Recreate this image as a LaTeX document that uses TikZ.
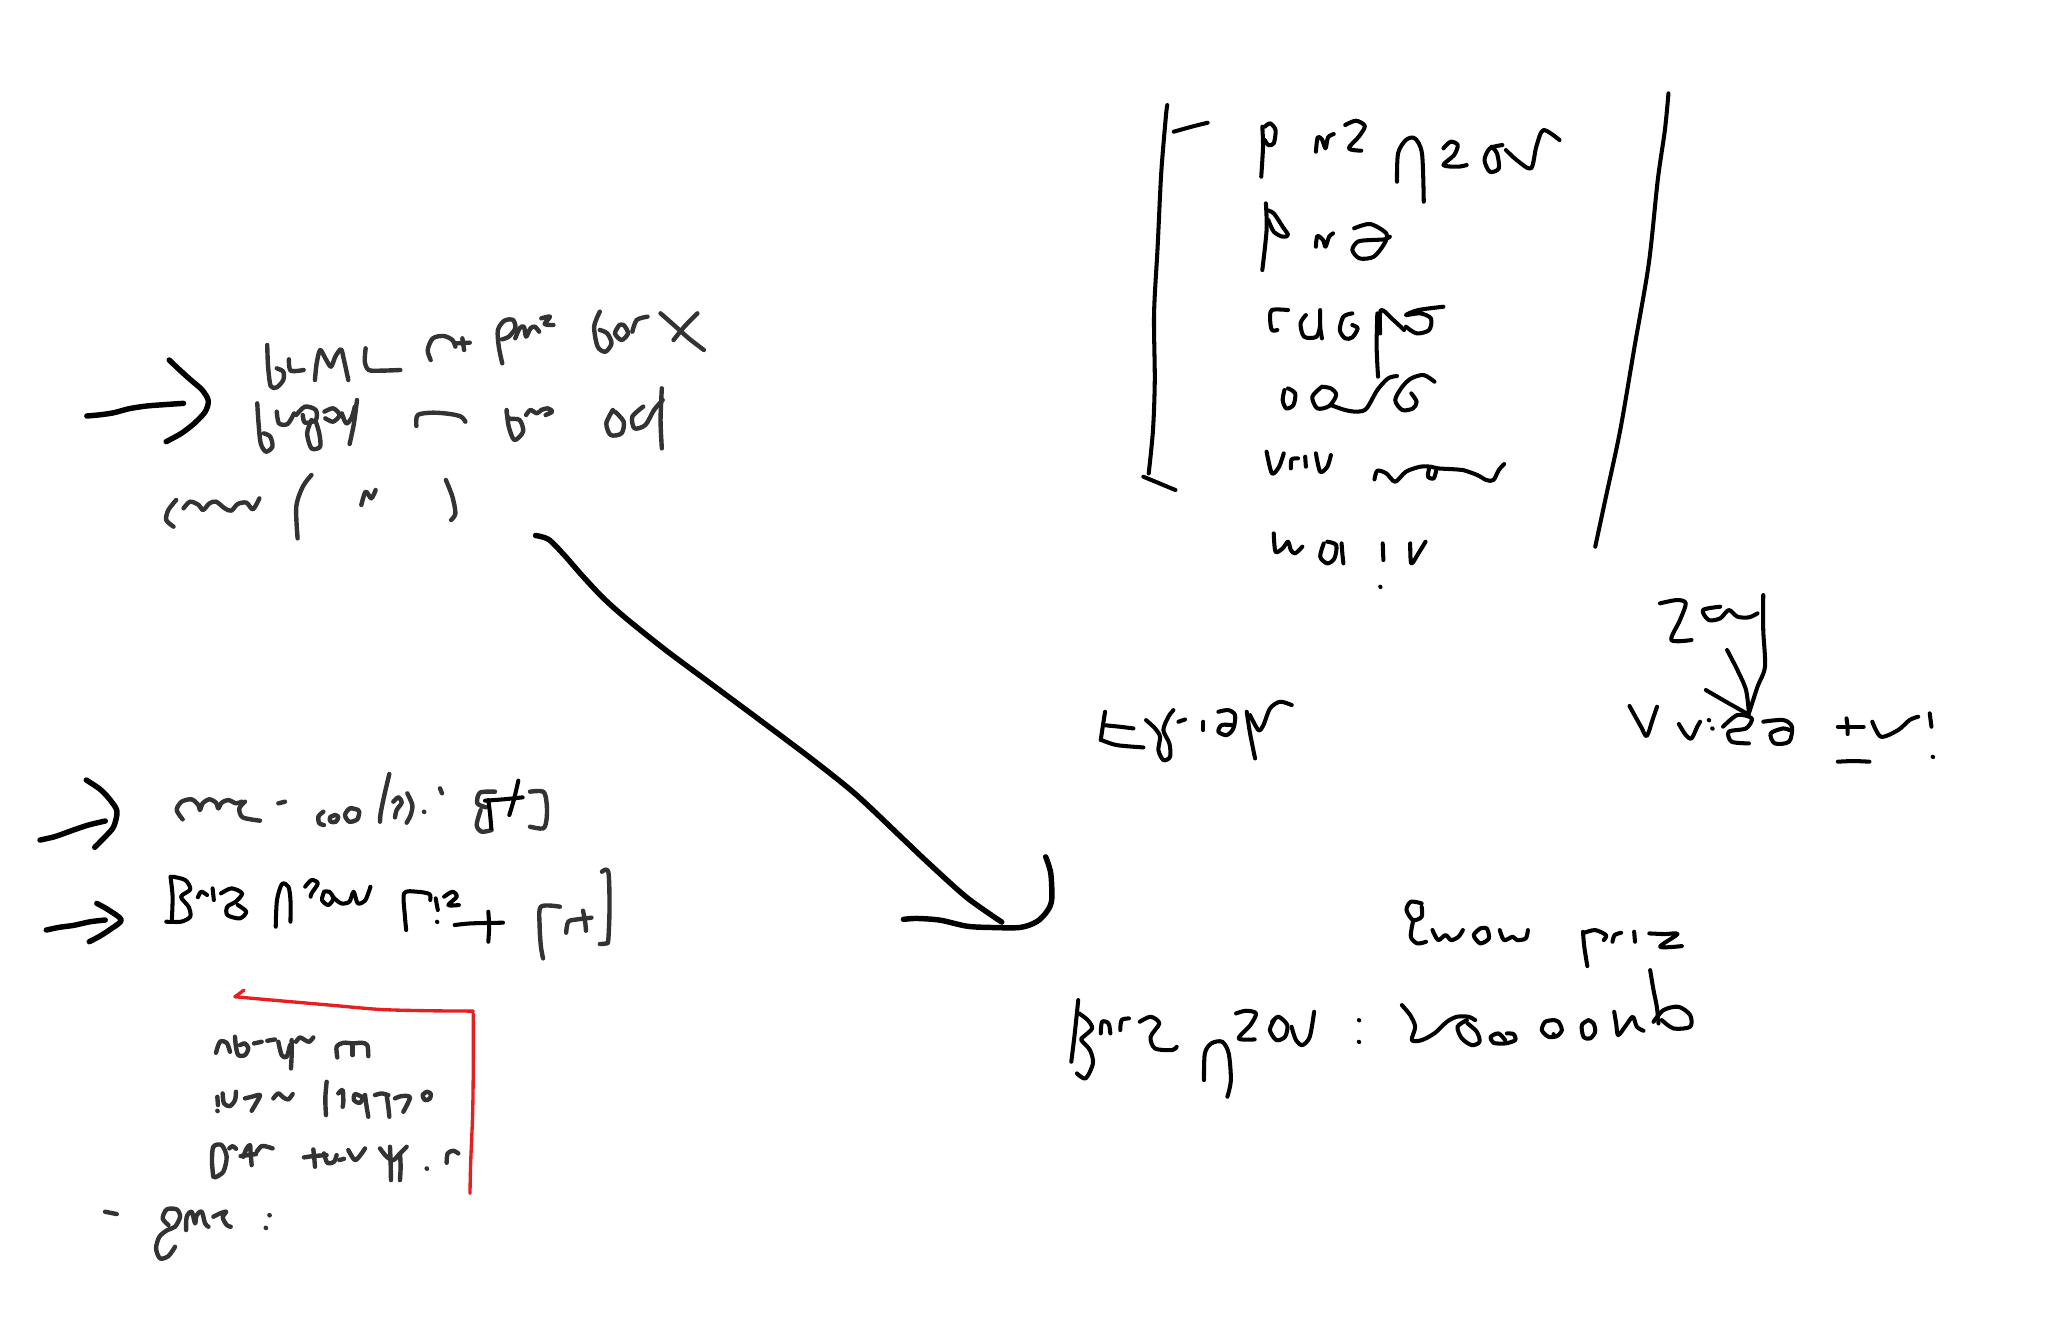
\documentclass[tikz,border=0pt]{standalone}
\usepackage{tikz}
\definecolor{inkgray}{RGB}{51,51,51}
\definecolor{boxred}{RGB}{230,32,32}

\begin{document}
\begin{tikzpicture}[x=0.0130612cm, y=-0.0130612cm,
    line cap=round, line join=round,
    pencil/.style={draw=inkgray, line width=1.25pt},
    pen/.style={draw=black, line width=1.15pt},
    marker/.style={draw=black, line width=1.55pt},
    redpen/.style={draw=boxred, line width=0.95pt}]
  \fill[white] (0,0) rectangle (1568,1010.6);
  \useasboundingbox (0,0) rectangle (1568,1010.6);

  % top left notes
  \begin{scope}[shift={(45.9,229.7)}, xscale=0.332, yscale=0.2552]
    \draw[marker] plot[smooth] coordinates {(62,348) (95,344) (125,338) (160,326) (200,318) (240,314) (285,310)};
    \draw[marker] plot[smooth] coordinates {(252,180) (272,205) (300,238) (328,270) (342,302) (335,335) (310,370) (280,400) (245,425)};
    \draw[pencil] plot[smooth] coordinates {(478,135) (480,200) (486,258) (500,262) (515,240) (515,215) (500,205)};
    \draw[pencil] plot[smooth] coordinates {(528,178) (532,212) (562,210)};
    \draw[pencil] plot[smooth] coordinates {(588,240) (592,190) (600,150) (612,175) (625,200) (635,170) (648,148) (655,180) (665,240)};
    \draw[pencil] plot[smooth] coordinates {(705,145) (703,185) (712,210) (740,212) (785,210)};
    \draw[pencil] plot[smooth] coordinates {(855,180) (848,150) (860,115) (885,108) (905,120) (912,140)};
    \draw[pencil] (915,130) -- (945,128) (928,115) -- (932,150);
    \draw[pencil] plot[smooth] coordinates {(1020,190) (1012,140) (1010,90) (1025,62) (1045,60) (1050,85) (1035,110) (1020,118)};
    \draw[pencil] plot[smooth] coordinates {(1050,115) (1060,85) (1070,80) (1075,110) (1085,85) (1095,80) (1105,95)};
    \draw[pencil] plot[smooth] coordinates {(1110,55) (1130,50) (1118,72) (1138,75)};
    \draw[pencil] plot[smooth] coordinates {(1245,35) (1232,80) (1240,140) (1258,155) (1272,130) (1262,100) (1245,90)};
    \draw[pencil] plot[smooth] coordinates {(1290,75) (1280,100) (1295,120) (1310,100) (1300,75) (1290,75)};
    \draw[pencil] plot[smooth] coordinates {(1320,95) (1330,60) (1355,50)};
    \draw[pencil] plot[smooth] coordinates {(1385,40) (1420,80) (1450,115) (1485,150)};
    \draw[pencil] plot[smooth] coordinates {(1470,40) (1440,80) (1415,120)};
    \draw[pencil] plot[smooth] coordinates {(455,310) (458,370) (463,430) (475,455) (490,440) (485,410) (470,400)};
    \draw[pencil] plot[smooth] coordinates {(500,335) (505,370) (525,372) (540,340)};
    \draw[pencil] plot[smooth] coordinates {(545,345) (565,320) (590,330) (590,360) (565,368) (560,345)};
    \draw[pencil] plot[smooth] coordinates {(580,360) (570,400) (580,445) (600,440) (598,400) (590,365)};
    \draw[pencil] plot[smooth] coordinates {(610,335) (630,325) (645,345) (630,365) (612,355)};
    \draw[pencil] plot[smooth] coordinates {(650,340) (660,370) (672,355) (680,320)};
    \draw[pencil] plot[smooth] coordinates {(685,300) (678,370) (668,432)};
    \draw[pencil] plot[smooth] coordinates {(822,378) (825,345) (860,338) (900,342) (925,350) (935,365)};
    \draw[pencil] plot[smooth] coordinates {(1030,330) (1035,380) (1048,420) (1068,395) (1060,360) (1035,355) (1030,335)};
    \draw[pencil] plot[smooth] coordinates {(1075,345) (1085,330) (1100,340) (1110,330) (1125,325) (1135,335) (1120,345)};
    \draw[pencil] plot[smooth] coordinates {(1275,330) (1260,370) (1270,405) (1295,400) (1300,365) (1280,335)};
    \draw[pencil] plot[smooth] coordinates {(1345,320) (1320,350) (1325,385) (1350,375) (1370,330) (1390,300)};
    \draw[pencil] plot[smooth] coordinates {(1388,265) (1385,360) (1388,445)};
    \draw[pencil] plot[smooth] coordinates {(268,600) (250,630) (245,660) (262,680)};
    \draw[pencil] plot[smooth] coordinates {(285,625) (300,605) (320,615) (330,630) (345,610) (360,605) (380,625) (395,632) (410,612) (430,608) (445,628) (460,595)};
    \draw[pencil] plot[smooth] coordinates {(580,525) (560,560) (545,620) (548,715)};
    \draw[pencil] plot[smooth] coordinates {(695,615) (705,575) (718,595) (728,570)};
    \draw[pencil] plot[smooth] coordinates {(890,540) (905,590) (912,640) (902,660)};
  \end{scope}

  % long curved arrow
  \coordinate (curvestart) at (410,410);
  \coordinate (curveend) at (767,706);
  \draw[marker] plot[smooth] coordinates {(curvestart) (420,413) (432,425) (446,441) (462,458) (480,474) (510,498) (545,524) (580,550) (620,580) (655,608) (690,641) (710,660) (740,687) (curveend)};
  \draw[marker] plot[smooth] coordinates {(691.7,703.9) (701.9,703.2) (719.7,704.5) (740.2,709.1) (758,710.1) (781,710.1) (793.7,705.7) (801.4,698.1) (805.2,689.1) (804.5,668.7) (800.6,656)};

  % middle left notes
  \begin{scope}[shift={(0,566.6)}, xscale=0.3223, yscale=0.2552]
    \draw[marker] plot[smooth] coordinates {(95,300) (130,290) (170,272) (210,255) (250,243)};
    \draw[marker] plot[smooth] coordinates {(205,120) (240,150) (265,185) (278,215) (270,260) (250,290) (225,322)};
    \draw[marker] plot[smooth] coordinates {(110,570) (140,562) (175,556) (215,545) (250,540)};
    \draw[marker] plot[smooth] coordinates {(230,490) (258,510) (288,540) (262,568) (235,590) (212,605)};
    \draw[pen] plot[smooth] coordinates {(405,410) (410,470) (408,545)};
    \draw[pen] plot[smooth] coordinates {(410,410) (440,420) (452,448) (430,470) (448,500) (452,530) (430,545) (395,545)};
    \draw[pen] plot[smooth] coordinates {(470,472) (478,455) (492,465)};
    \draw[pen] (505,445) -- (508,480);
    \draw[pen] plot[smooth] coordinates {(525,460) (550,445) (575,460) (560,485) (540,500) (540,525) (570,535) (585,515) (565,495)};
    \draw[pen] plot[smooth] coordinates {(655,560) (658,480) (670,432) (685,440) (690,480) (690,545)};
    \draw[pen] plot[smooth] coordinates {(725,440) (740,420) (755,430) (740,460) (738,470)};
    \draw[pen] plot[smooth] coordinates {(770,455) (765,480) (780,495) (792,475) (782,455) (770,455)};
    \draw[pen] plot[smooth] coordinates {(790,470) (810,490) (830,485) (840,455) (850,490) (868,480) (880,440)};
    \draw[pen] plot[smooth] coordinates {(965,570) (962,530) (960,460) (990,455) (1020,462) (1022,480)};
    \draw[pen] (1035,475) -- (1040,510) (1038,545) -- ++(1,1);
    \draw[pen] plot[smooth] coordinates {(1055,470) (1075,455) (1085,470) (1065,495) (1090,495)};
    \draw[pen] plot[smooth] coordinates {(1080,555) (1120,550) (1195,548)};
    \draw[pen] plot[smooth] coordinates {(1160,515) (1162,560) (1160,605)};
    \draw[pencil] plot[smooth] coordinates {(1330,500) (1285,500) (1282,560) (1285,620) (1290,655)};
    \draw[pencil] plot[smooth] coordinates {(1345,578) (1350,545) (1372,538) (1405,533)};
    \draw[pencil] plot[smooth] coordinates {(1385,512) (1390,545) (1392,572)};
    \draw[pencil] plot[smooth] coordinates {(1430,395) (1445,395) (1448,500) (1445,600) (1440,610) (1425,612)};
  \end{scope}
  \begin{scope}[shift={(122.5,581.9)}, scale=0.2552]
    \draw[pencil] plot[smooth] coordinates {(68,178) (50,150) (65,125) (95,118) (115,135) (120,150) (128,130) (148,118) (168,128) (175,145) (185,128) (205,120) (228,130) (245,125)};
    \draw[pencil] plot[smooth] coordinates {(255,125) (238,145) (248,172) (300,182)};
    \draw[pencil] (355,130) -- (375,125);
    \draw[pencil] plot[smooth] coordinates {(490,155) (475,170) (478,190) (492,195)};
    \draw[pencil] plot[smooth] coordinates {(525,165) (510,172) (512,185) (528,185) (535,170) (525,165)};
    \draw[pencil] plot[smooth] coordinates {(595,150) (570,145) (555,165) (568,185) (592,178) (598,155)};
    \draw[pencil] plot[smooth] coordinates {(688,42) (672,110) (662,160) (660,185)};
    \draw[pencil] plot[smooth] coordinates {(700,125) (715,112) (725,128) (710,150) (705,172)};
    \draw[pencil] plot[smooth] coordinates {(742,100) (757,135) (752,165) (740,188)};
    \draw[pencil] (792,155) -- ++(1,1) (840,85) -- (846,100);
    \draw[pencil] plot[smooth] coordinates {(1005,95) (960,98) (952,130) (978,142)};
    \draw[pencil] plot[smooth] coordinates {(962,150) (950,195) (965,215) (995,210)};
    \draw[pen] plot[smooth] coordinates {(975,122) (1030,118) (1088,112)};
    \draw[pen] plot[smooth] coordinates {(1075,62) (1062,118) (1048,165)};
    \draw[pen] plot[smooth] coordinates {(985,120) (990,160) (994,205)};
    \draw[pencil] plot[smooth] coordinates {(1110,95) (1150,95) (1160,130) (1160,175) (1150,205) (1110,200)};
  \end{scope}

  % red corner with list
  \begin{scope}[shift={(137.8,750.4)}, scale=0.2552]
    \draw[redpen] (192,30) -- (165,50);
    \draw[redpen] plot[smooth] coordinates {(165,50) (300,62) (450,75) (600,88) (750,92) (880,93)};
    \draw[redpen] plot[smooth] coordinates {(880,100) (880,250) (878,400) (872,550) (870,640)};
    \draw[pencil] plot[smooth] coordinates {(108,218) (120,185) (140,188) (150,215)};
    \draw[pencil] plot[smooth] coordinates {(165,170) (168,200) (175,225) (195,225) (205,205) (195,190) (180,195)};
    \draw[pencil] (222,190) -- (245,185);
    \draw[pencil] (262,182) -- (285,178);
    \draw[pencil] plot[smooth] coordinates {(295,185) (305,225) (320,230) (330,195)};
    \draw[pencil] plot[smooth] coordinates {(335,180) (335,225) (333,265)};
    \draw[pencil] plot[smooth] coordinates {(348,185) (360,172) (375,180) (388,185) (400,172)};
    \draw[pencil] plot[smooth] coordinates {(472,232) (470,200) (490,188) (520,190) (545,188) (562,195) (565,228)};
    \draw[pencil] (518,192) -- (518,225);
    \draw[pencil] (112,350) -- (114,375) (112,392) -- ++(1,1);
    \draw[pencil] plot[smooth] coordinates {(128,340) (132,370) (150,378) (165,360) (168,335)};
    \draw[pencil] plot[smooth] coordinates {(195,355) (215,350) (240,345) (228,370) (215,392)};
    \draw[pencil] plot[smooth] coordinates {(280,355) (295,340) (310,352) (325,358) (338,342)};
    \draw[pencil] plot[smooth] coordinates {(440,305) (436,355) (438,405)};
    \draw[pencil] plot[smooth] coordinates {(475,340) (488,330) (490,365) (488,380)};
    \draw[pencil] plot[smooth] coordinates {(545,350) (525,342) (522,360) (540,368) (555,345)};
    \draw[pencil] plot[smooth] coordinates {(555,345) (560,380) (565,410)};
    \draw[pencil] plot[smooth] coordinates {(585,345) (605,340) (625,345)};
    \draw[pencil] plot[smooth] coordinates {(620,345) (625,380) (628,410)};
    \draw[pencil] plot[smooth] coordinates {(645,355) (665,348) (690,352) (670,395)};
    \draw[pencil] plot[smooth] coordinates {(740,335) (728,345) (735,360) (750,355) (752,340) (740,335)};
    \draw[pencil] plot[smooth] coordinates {(100,590) (96,545) (100,500) (125,495) (140,530) (130,575) (105,592)};
    \draw[pencil] plot[smooth] coordinates {(148,505) (158,498) (168,506)};
    \draw[pencil] plot[smooth] coordinates {(190,530) (200,505) (210,495) (212,520) (215,555)};
    \draw[pencil] (182,528) -- (228,522);
    \draw[pencil] plot[smooth] coordinates {(230,515) (245,498) (262,500) (278,505)};
    \draw[pencil] plot[smooth] coordinates {(372,532) (400,528) (440,525)};
    \draw[pencil] plot[smooth] coordinates {(400,508) (403,535) (405,560)};
    \draw[pencil] plot[smooth] coordinates {(432,520) (442,548) (462,545) (470,525)};
    \draw[pencil] (478,540) -- (492,536);
    \draw[pencil] plot[smooth] coordinates {(505,510) (525,540) (545,520) (555,505)};
    \draw[pencil] plot[smooth] coordinates {(600,505) (620,530) (640,540) (660,520) (680,500)};
    \draw[pencil] plot[smooth] coordinates {(630,500) (632,550) (633,600)};
    \draw[pencil] plot[smooth] coordinates {(660,520) (662,560) (660,600)};
    \draw[pencil] (740,565) -- ++(1,1);
    \draw[pencil] plot[smooth] coordinates {(800,548) (803,520) (820,512) (835,520)};
  \end{scope}

  % bottom left word
  \begin{scope}[shift={(61.3,903.5)}, scale=0.2552]
    \draw[pencil] (75,95) -- (110,102);
    \draw[pencil] plot[smooth] coordinates {(265,135) (248,115) (260,88) (290,88) (300,110) (285,140) (262,150) (238,170) (228,205) (240,235) (265,228) (285,200)};
    \draw[pencil] plot[smooth] coordinates {(318,150) (320,110) (335,95) (345,130) (350,105) (365,95) (375,130) (385,140)};
    \draw[pencil] plot[smooth] coordinates {(400,110) (420,100) (438,95) (428,112) (440,135) (452,140)};
    \draw[pencil] (568,105) -- ++(1,1) (557,143) -- ++(1,1);
  \end{scope}

  % bracketed list, top right
  \begin{scope}[shift={(857.6,61.3)}, xscale=0.2735, yscale=0.2552]
    \draw[pen] plot[smooth] coordinates {(132,75) (128,110) (115,280) (105,500) (95,700) (97,900) (92,1050) (80,1180)};
    \draw[pen] plot[smooth] coordinates {(150,155) (200,140) (245,128)};
    \draw[pen] plot[smooth] coordinates {(65,1190) (110,1210) (155,1230)};
    \draw[pen] plot[smooth] coordinates {(1535,40) (1525,150) (1505,300) (1480,550) (1440,800) (1400,1050) (1360,1250) (1330,1400)};
    \draw[pen] plot[smooth] coordinates {(398,140) (400,200) (395,290)};
    \draw[pen] plot[smooth] coordinates {(405,140) (420,130) (435,150) (430,190) (415,195) (405,180)};
    \draw[pen] plot[smooth] coordinates {(548,215) (553,172) (565,178) (575,205) (582,172) (598,162)};
    \draw[pen] plot[smooth] coordinates {(630,135) (660,122) (685,138) (668,170) (640,205) (675,212)};
    \draw[pen] plot[smooth] coordinates {(775,305) (778,220) (800,180) (825,175) (845,220) (850,365)};
    \draw[pen] plot[smooth] coordinates {(905,205) (925,185) (945,195) (935,225) (905,255) (945,260) (970,255)};
    \draw[pen] plot[smooth] coordinates {(1070,195) (1035,205) (1020,240) (1035,275) (1060,265) (1055,220) (1040,200)};
    \draw[pen] plot[smooth] coordinates {(1080,210) (1110,240) (1150,265) (1165,200) (1185,150) (1230,180)};
    \draw[pen] plot[smooth] coordinates {(408,370) (410,450) (398,570)};
    \draw[pen] plot[smooth] coordinates {(410,390) (430,400) (455,440) (470,465) (455,470) (430,455) (415,420)};
    \draw[pen] plot[smooth] coordinates {(548,500) (552,468) (568,480) (575,500) (585,470) (596,460)};
    \draw[pen] plot[smooth] coordinates {(655,445) (700,432) (745,460) (740,490) (710,530) (670,535) (650,510) (665,485) (700,480) (740,478) (755,470)};
    \draw[pen] plot[smooth] coordinates {(470,690) (425,690) (420,720) (425,750) (440,750)};
    \draw[pen] plot[smooth] coordinates {(520,705) (505,730) (515,770) (550,770) (560,735)};
    \draw[pen] plot[smooth] coordinates {(560,690) (560,740) (565,775)};
    \draw[pen] plot[smooth] coordinates {(650,700) (625,710) (615,750) (630,775) (650,772) (665,745) (650,735)};
    \draw[pen] plot[smooth] coordinates {(720,700) (718,800) (722,890)};
    \draw[pen] plot[smooth] coordinates {(728,760) (730,690) (765,720) (795,750)};
    \draw[pen] plot[smooth] coordinates {(800,740) (830,760) (865,750) (870,715) (840,700) (800,705) (835,690) (905,680)};
    \draw[pen] plot[smooth] coordinates {(460,930) (455,960) (465,985) (485,975) (490,940) (470,925)};
    \draw[pen] plot[smooth] coordinates {(565,920) (538,950) (552,985) (585,978) (605,945) (590,925) (565,920)};
    \draw[pen] plot[smooth] coordinates {(590,975) (630,990) (665,995) (690,985) (720,930) (750,895) (775,888)};
    \draw[pen] plot[smooth] coordinates {(880,905) (850,885) (815,895) (790,920) (770,960) (790,990) (820,985) (830,965) (815,940)};
    \draw[pen] plot[smooth] coordinates {(410,1115) (425,1180) (445,1160) (458,1120)};
    \draw[pen] plot[smooth] coordinates {(478,1165) (480,1138) (498,1135)};
    \draw[pen] (518,1130) -- (520,1160);
    \draw[pen] plot[smooth] coordinates {(548,1120) (560,1175) (580,1160) (590,1125)};
    \draw[pen] plot[smooth] coordinates {(712,1198) (720,1172) (745,1180) (770,1205) (800,1175) (840,1160) (870,1160) (890,1165) (940,1168) (960,1170) (1000,1185) (1025,1200) (1045,1200) (1060,1170) (1075,1152)};
    \draw[pen] plot[smooth] coordinates {(865,1165) (862,1190) (878,1195) (885,1170)};
    \draw[pen] plot[smooth] coordinates {(430,1360) (435,1415) (455,1405) (470,1385) (478,1410) (490,1420) (510,1400)};
    \draw[pen] plot[smooth] coordinates {(570,1390) (560,1430) (580,1450) (600,1435) (605,1395) (580,1385)};
    \draw[pen] plot[smooth] coordinates {(620,1390) (622,1420) (625,1450)};
    \draw[pen] (735,1390) -- (737,1440);
    \draw[pen] plot[smooth] coordinates {(812,1390) (815,1450) (835,1420) (855,1385)};
    \draw[pen] (728,1520) -- ++(1,1);
  \end{scope}

  % left word below the list
  \begin{scope}[shift={(796.3,505.4)}, scale=0.2552]
    \draw[pen] plot[smooth] coordinates {(195,155) (188,200) (182,240)};
    \draw[pen] plot[smooth] coordinates {(190,195) (240,200) (280,205)};
    \draw[pen] plot[smooth] coordinates {(185,240) (230,255) (310,262)};
    \draw[pen] plot[smooth] coordinates {(318,180) (345,205) (360,230) (355,270) (370,300) (390,290) (388,250) (370,210) (385,170) (400,150)};
    \draw[pen] (415,185) -- (435,178);
    \draw[pen] (490,185) -- (490,210);
    \draw[pen] plot[smooth] coordinates {(535,155) (565,150) (585,165) (580,205) (560,225) (535,215) (545,195) (575,195)};
    \draw[pen] plot[smooth] coordinates {(620,155) (630,220) (645,295)};
    \draw[pen] plot[smooth] coordinates {(630,165) (655,210) (670,195) (690,145) (720,125) (755,135)};
  \end{scope}

  % right word with small arrow
  \begin{scope}[shift={(811.6,444.1)}, xscale=0.4395, yscale=0.2552]
    \draw[pen] plot[smooth] coordinates {(1045,70) (1075,60) (1090,70) (1080,120) (1065,180) (1100,180)};
    \draw[pen] plot[smooth] coordinates {(1150,80) (1120,90) (1130,120) (1150,115) (1165,90) (1180,110) (1200,112) (1215,100)};
    \draw[pen] plot[smooth] coordinates {(1225,45) (1225,150) (1228,260) (1215,320) (1200,400)};
    \draw[pen] plot[smooth] coordinates {(1162,210) (1180,270) (1195,330) (1200,400)};
    \draw[pen] plot[smooth] coordinates {(1125,330) (1160,365) (1198,402)};
    \draw[pen] plot[smooth] coordinates {(992,378) (1012,440) (1022,468) (1032,420) (1040,380)};
    \draw[pen] plot[smooth] coordinates {(1078,432) (1090,465) (1100,475) (1110,440) (1115,425)};
    \draw[pen] (1130,420) -- ++(1,1) (1136,445) -- ++(1,1);
    \draw[pen] plot[smooth] coordinates {(1155,440) (1180,405) (1205,415) (1195,445) (1165,455) (1170,485) (1200,490)};
    \draw[pen] plot[smooth] coordinates {(1225,425) (1260,420) (1275,440) (1270,485) (1245,490) (1238,460) (1260,445) (1270,450)};
    \draw[pen] plot[smooth] coordinates {(1355,440) (1378,440) (1400,440)};
    \draw[pen] plot[smooth] coordinates {(1370,415) (1372,440) (1372,462)};
    \draw[pen] plot[smooth] coordinates {(1355,545) (1382,543) (1410,545)};
    \draw[pen] plot[smooth] coordinates {(1415,425) (1430,470) (1460,450) (1480,420) (1495,410)};
    \draw[pen] (1515,400) -- (1518,440) (1520,530) -- ++(1,1);
  \end{scope}

  % bottom right lines
  \begin{scope}[shift={(796.3,643.2)}, xscale=0.332, yscale=0.2552]
    \draw[pen] plot[smooth] coordinates {(880,190) (855,185) (845,210) (860,240) (880,230) (880,200)};
    \draw[pen] plot[smooth] coordinates {(860,245) (855,290) (870,310) (890,305)};
    \draw[pen] plot[smooth] coordinates {(905,270) (918,300) (935,285) (948,300) (965,290) (975,270)};
    \draw[pen] plot[smooth] coordinates {(1015,265) (1000,285) (1015,310) (1035,295) (1030,265) (1015,265)};
    \draw[pen] plot[smooth] coordinates {(1060,270) (1070,300) (1090,290) (1100,300) (1120,295) (1125,270)};
    \draw[pen] plot[smooth] coordinates {(1252,275) (1255,320) (1262,378)};
    \draw[pen] plot[smooth] coordinates {(1255,278) (1280,270) (1305,285) (1300,300)};
    \draw[pen] plot[smooth] coordinates {(1320,305) (1325,285) (1340,278)};
    \draw[pen] (1370,275) -- (1372,305);
    \draw[pen] plot[smooth] coordinates {(1405,280) (1440,282) (1470,282) (1430,320) (1480,318)};
    \draw[pen] plot[smooth] coordinates {(88,480) (80,580) (72,665)};
    \draw[pen] plot[smooth] coordinates {(90,520) (110,540) (120,565) (100,590) (95,600) (115,630) (122,670) (105,715) (85,700)};
    \draw[pen] plot[smooth] coordinates {(140,580) (143,545) (158,550) (162,580)};
    \draw[pen] plot[smooth] coordinates {(185,570) (188,540) (205,535)};
    \draw[pen] plot[smooth] coordinates {(230,545) (255,530) (275,550) (255,590) (265,625) (305,630) (315,620)};
    \draw[pen] plot[smooth] coordinates {(378,720) (380,640) (395,610) (420,605) (435,640) (440,720) (432,770)};
    \draw[pen] plot[smooth] coordinates {(452,520) (475,512) (498,520) (485,555) (458,595) (495,598)};
    \draw[pen] plot[smooth] coordinates {(540,540) (530,570) (545,600) (565,590) (570,555) (550,530) (535,545)};
    \draw[pen] plot[smooth] coordinates {(580,560) (590,600) (605,615) (622,590) (632,515)};
    \draw[pen] (735,540) -- ++(1,1) (735,605) -- ++(1,1);
  \end{scope}
  \begin{scope}[shift={(1056.7,735.1)}, scale=0.2552]
    \draw[pen] plot[smooth] coordinates {(65,135) (90,165) (105,200) (95,240) (125,240) (165,218) (200,185) (230,170) (265,170) (285,180)};
    \draw[pen] plot[smooth] coordinates {(260,180) (232,200) (245,235) (275,255) (298,245) (290,215) (262,190)};
    \draw[pen] plot[smooth] coordinates {(375,240) (355,220) (332,230) (340,248) (375,250) (405,240) (400,222) (380,220)};
    \draw[pen] plot[smooth] coordinates {(520,180) (495,185) (485,210) (505,230) (530,228) (545,210) (535,185) (520,180)};
    \draw[pen] (520,222) -- ++(1,1);
    \draw[pen] plot[smooth] coordinates {(625,180) (605,195) (610,230) (630,235) (645,215) (640,190) (625,180)};
    \draw[pen] plot[smooth] coordinates {(702,155) (708,190) (714,225) (738,195) (758,170) (770,200) (790,212)};
    \draw[pen] plot[smooth] coordinates {(810,30) (820,90) (830,140) (835,190)};
    \draw[pen] plot[smooth] coordinates {(820,185) (850,150) (895,140) (930,165) (930,200) (880,205) (845,180)};
  \end{scope}
\end{tikzpicture}
\end{document}
